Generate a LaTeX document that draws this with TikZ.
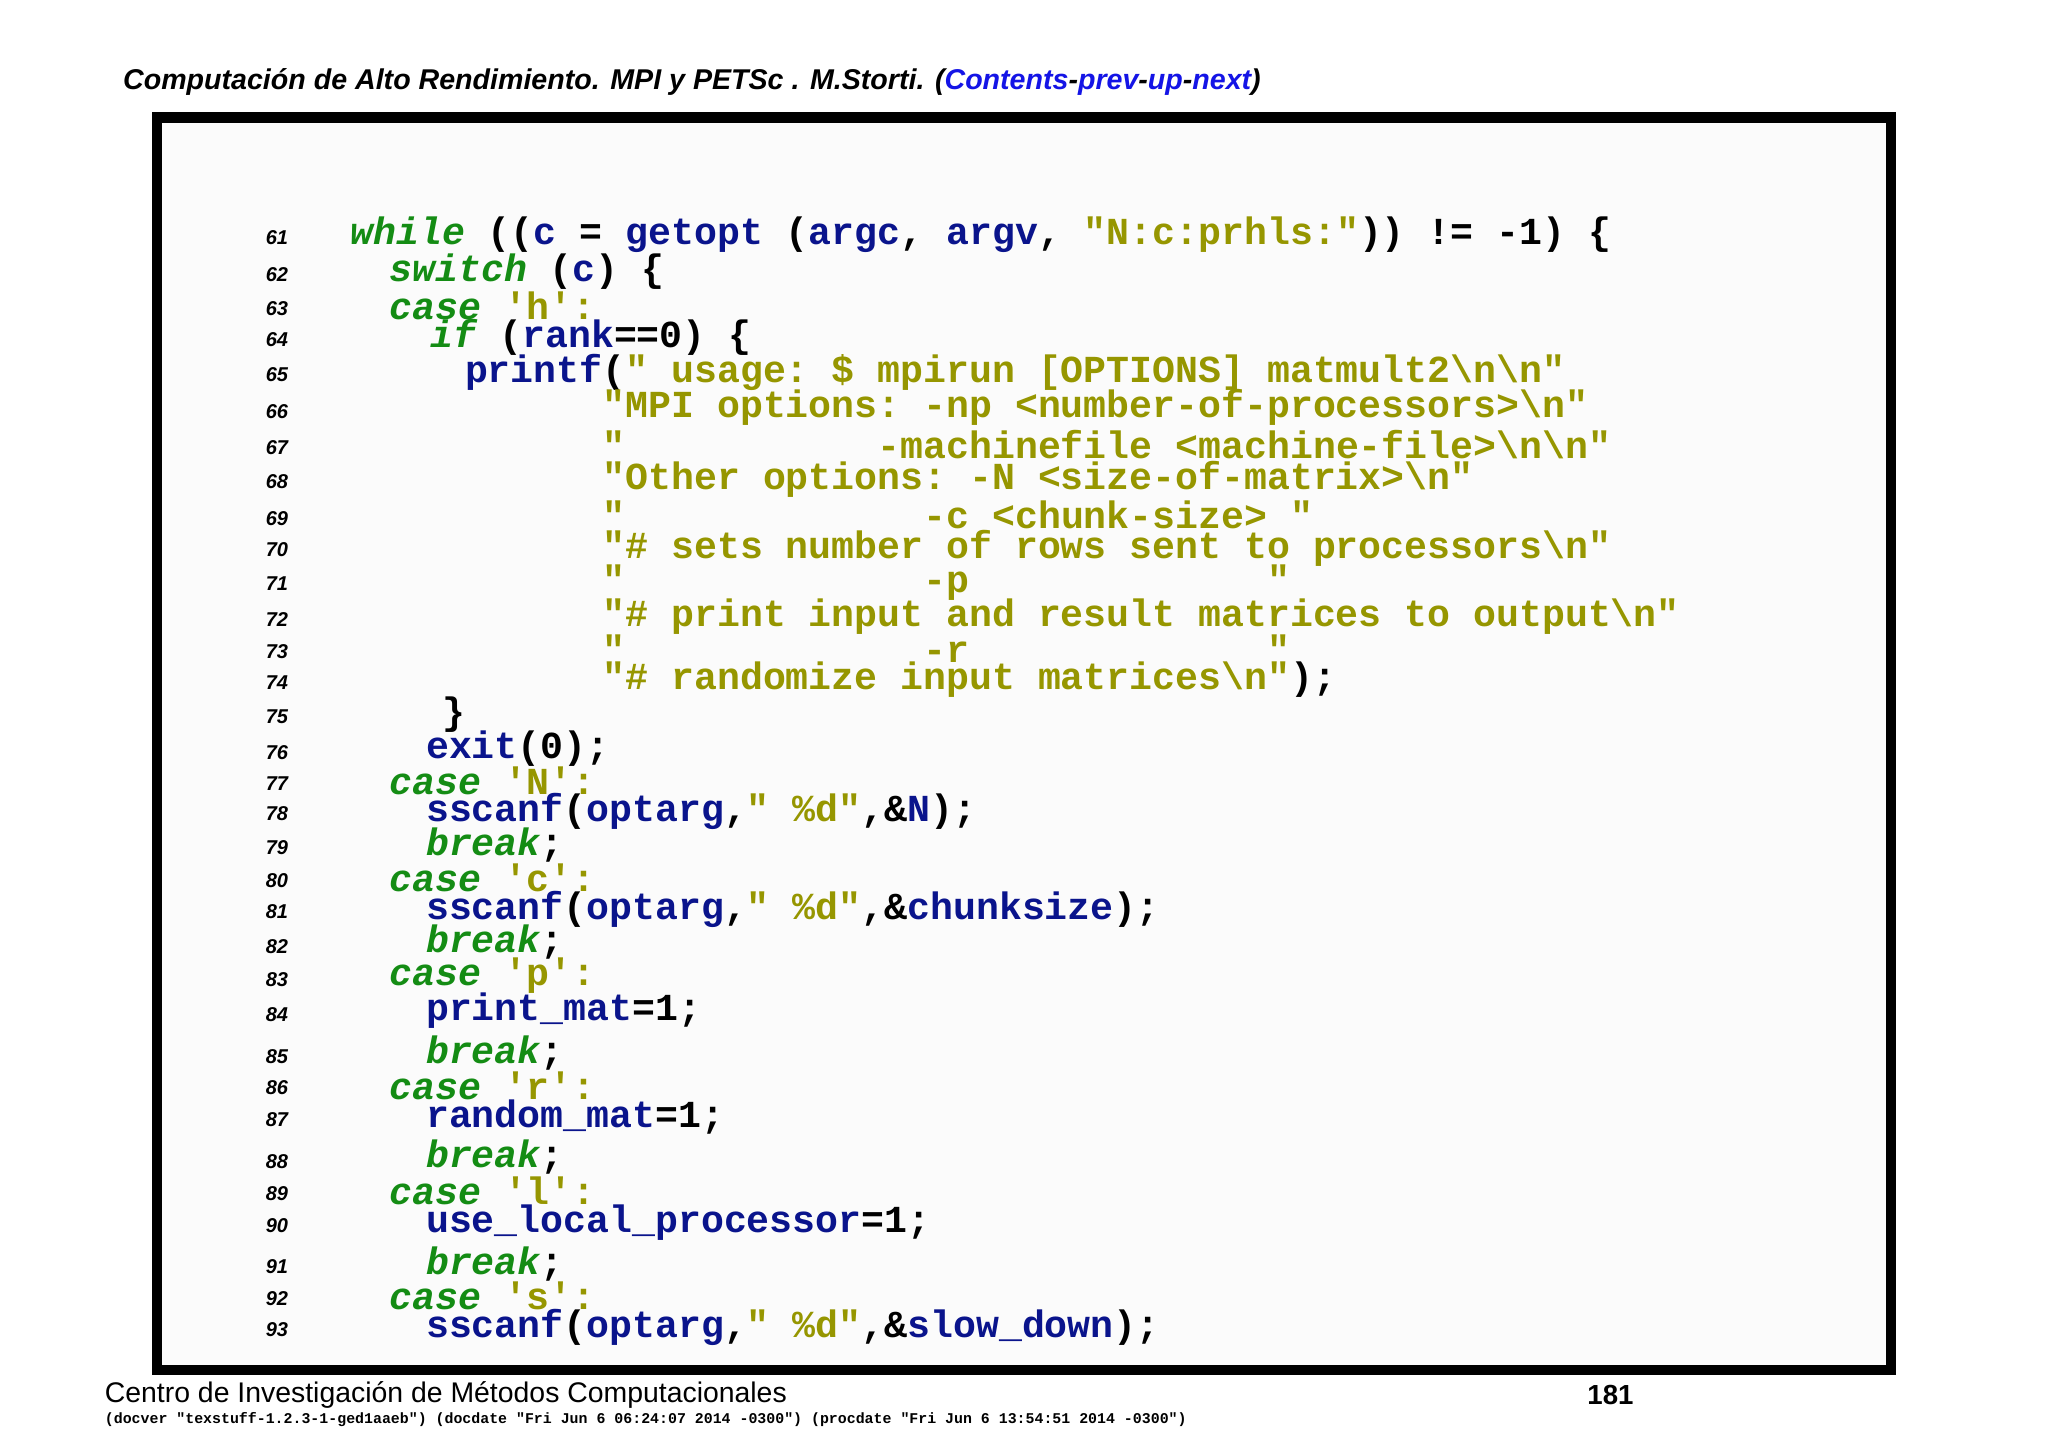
\documentclass[tikz,border=0pt]{standalone}
\usepackage{fontspec}
\setmainfont{Liberation Sans}
\setsansfont{Liberation Sans}
\setmonofont{Liberation Mono}
\definecolor{kwc}{RGB}{20,140,20}
\definecolor{idc}{RGB}{10,20,140}
\definecolor{stc}{RGB}{150,150,0}
\definecolor{lnk}{RGB}{20,20,230}
\newcommand{\kw}[1]{{\color{kwc}\itshape #1}}
\newcommand{\idn}[1]{{\color{idc}#1}}
\newcommand{\str}[1]{{\color{stc}#1}}
\newcommand{\bs}{\textbackslash}
\newcommand{\spc}[1]{\hspace*{#1\fontcharwd\font`x}}
\begin{document}
\begin{tikzpicture}[x=0.6531pt,y=-0.6531pt,
  code/.style={anchor=west,inner sep=0pt,font=\ttfamily\bfseries\fontsize{19.1}{20}\selectfont},
  lnum/.style={inner sep=0pt,font=\sffamily\bfseries\itshape\fontsize{10}{12}\selectfont}]
\useasboundingbox (0,0) rectangle (1568,1108.6);
\fill[white] (0,0) rectangle (1568,1108.6);
\node[anchor=west,inner sep=0pt,font=\sffamily\bfseries\itshape\fontsize{14.3}{16}\selectfont] (hdr) at (94,63)
 {Computación de Alto Rendimiento. MPI y PETSc . M.Storti. ({\color{lnk}Contents}-{\color{lnk}prev}-{\color{lnk}up}-{\color{lnk}next})};
\draw[line width=5.2pt,fill={rgb,255:red,251;green,251;blue,251}] (120,90) rectangle (1448,1049);
\node[anchor=west,inner sep=0pt,font=\sffamily\fontsize{14.2}{16}\selectfont] (ftr) at (80,1068) {Centro de Investigación de Métodos Computacionales};
\node[inner sep=0pt,font=\sffamily\bfseries\fontsize{13.8}{15}\selectfont] (pg) at (1233,1068) {181};
\node[anchor=west,inner sep=0pt,font=\ttfamily\bfseries\fontsize{7.45}{9}\selectfont] (ver) at (80,1087)
 {(docver "texstuff-1.2.3-1-ged1aaeb") (docdate "Fri Jun 6 06:24:07 2014 -0300") (procdate "Fri Jun 6 13:54:51 2014 -0300")};
% line numbers
\foreach \n/\yy in {61/182,62/210,63/236,64/260,65/287,66/315,67/343,68/369,69/397,70/421,71/447,72/474,73/499,74/523,75/549,76/576,77/600,78/623,79/649,80/674,81/698,82/725,83/750,84/777,85/809,86/833,87/857,88/889,89/914,90/938,91/970,92/994,93/1018}
  \node[lnum] (n\n) at (212,\yy) {\n};
% code
\node[code] (c61) at (268,180) {\kw{while} ((\idn{c} = \idn{getopt} (\idn{argc}, \idn{argv}, \str{"N:c:prhls:"})) != -1) \{};
\node[code] (c62) at (268,208) {\spc{1.7}\kw{switch} (\idn{c}) \{};
\node[code] (c63) at (268,234) {\spc{1.7}\kw{case} \str{'h':}};
\node[code] (c64) at (268,258) {\spc{3.5}\kw{if} (\idn{rank}==0) \{};
\node[code] (c65) at (268,285) {\spc{5}\idn{printf}(\str{" usage: \$ mpirun [OPTIONS] matmult2\bs n\bs n"}};
\node[code] (c66) at (268,312) {\spc{11}\str{"MPI options: -np <number-of-processors>\bs n"}};
\node[code] (c67) at (268,340) {\spc{11}\str{"\spc{11}-machinefile <machine-file>\bs n\bs n"}};
\node[code] (c68) at (268,367) {\spc{11}\str{"Other options: -N <size-of-matrix>\bs n"}};
\node[code] (c69) at (268,394) {\spc{11}\str{"\spc{13}-c <chunk-size> "}};
\node[code] (c70) at (268,420) {\spc{11}\str{"\# sets number of rows sent to processors\bs n"}};
\node[code] (c71) at (268,446) {\spc{11}\str{"\spc{13}-p\spc{13}"}};
\node[code] (c72) at (268,472) {\spc{11}\str{"\# print input and result matrices to output\bs n"}};
\node[code] (c73) at (268,497) {\spc{11}\str{"\spc{13}-r\spc{13}"}};
\node[code] (c74) at (268,520) {\spc{11}\str{"\# randomize input matrices\bs n"});};
\node[code] (c75) at (268,547) {\spc{4}\}};
\node[code] (c76) at (268,573) {\spc{3.3}\idn{exit}(0);};
\node[code] (c77) at (268,598) {\spc{1.7}\kw{case} \str{'N':}};
\node[code] (c78) at (268,621) {\spc{3.3}\idn{sscanf}(\idn{optarg},\str{" \%d"},\&\idn{N});};
\node[code] (c79) at (268,647) {\spc{3.3}\kw{break};};
\node[code] (c80) at (268,672) {\spc{1.7}\kw{case} \str{'c':}};
\node[code] (c81) at (268,696) {\spc{3.3}\idn{sscanf}(\idn{optarg},\str{" \%d"},\&\idn{chunksize});};
\node[code] (c82) at (268,721) {\spc{3.3}\kw{break};};
\node[code] (c83) at (268,747) {\spc{1.7}\kw{case} \str{'p':}};
\node[code] (c84) at (268,774) {\spc{3.3}\idn{print\_mat}=1;};
\node[code] (c85) at (268,806) {\spc{3.3}\kw{break};};
\node[code] (c86) at (268,831) {\spc{1.7}\kw{case} \str{'r':}};
\node[code] (c87) at (268,855) {\spc{3.3}\idn{random\_mat}=1;};
\node[code] (c88) at (268,886) {\spc{3.3}\kw{break};};
\node[code] (c89) at (268,912) {\spc{1.7}\kw{case} \str{'l':}};
\node[code] (c90) at (268,936) {\spc{3.3}\idn{use\_local\_processor}=1;};
\node[code] (c91) at (268,968) {\spc{3.3}\kw{break};};
\node[code] (c92) at (268,992) {\spc{1.7}\kw{case} \str{'s':}};
\node[code] (c93) at (268,1016) {\spc{3.3}\idn{sscanf}(\idn{optarg},\str{" \%d"},\&\idn{slow\_down});};
\end{tikzpicture}
\end{document}
